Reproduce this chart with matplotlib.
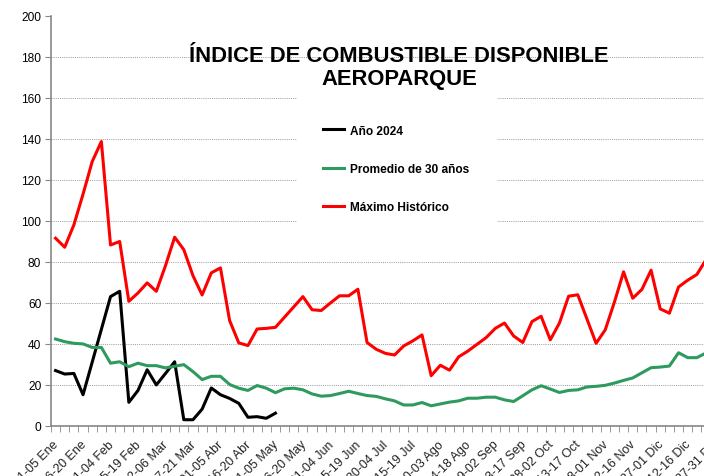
import matplotlib
matplotlib.use("Agg")
import matplotlib.pyplot as plt
import matplotlib.transforms as mtransforms
import numpy as np

plt.rcParams['font.family'] = ['Liberation Sans', 'DejaVu Sans']

# pentad labels, one every third pentad
tick_labels = ["01-05 Ene", "16-20 Ene", "31-04 Feb", "15-19 Feb", "02-06 Mar",
               "17-21 Mar", "01-05 Abr", "16-20 Abr", "01-05 May", "16-20 May",
               "31-04 Jun", "15-19 Jun", "30-04 Jul", "15-19 Jul", "30-03 Ago",
               "14-18 Ago", "29-02 Sep", "13-17 Sep", "28-02 Oct", "13-17 Oct",
               "28-01 Nov", "12-16 Nov", "27-01 Dic", "12-16 Dic", "27-31 Dic"]
n_pentads = 73

anio_2024 = [26.9, 25.2, 25.5, 15.1, 31, 47, 63, 65.6, 11.4, 17.2,
             27.3, 19.9, 25.5, 31.2, 2.9, 2.9, 8.1, 18.4, 15.1, 13.3,
             10.9, 4.1, 4.4, 3.6, 6.1]

promedio_30 = [42.3, 41, 40.2, 39.9, 38.2, 38.2, 30.5, 31.2, 28.8, 30.5,
               29.3, 29.3, 28.2, 29, 29.8, 26.4, 22.5, 24.1, 24.1, 20.1,
               18.3, 17.2, 19.6, 18.3, 16.1, 18, 18.3, 17.5, 15.5, 14.4,
               14.7, 15.7, 16.8, 15.7, 14.7, 14.3, 13.1, 12.1, 10.1, 10.1,
               11.3, 9.7, 10.6, 11.5, 12.1, 13.4, 13.4, 13.9, 13.9, 12.6,
               11.8, 14.6, 17.5, 19.5, 17.9, 16.2, 17.2, 17.5, 18.9, 19.2,
               19.7, 20.8, 22.1, 23.3, 25.8, 28.3, 28.6, 29.1, 35.6, 33.2,
               33.2, 35.5]

maximo_hist = [91.5, 87.1, 98, 113, 128.9, 138.7, 88.2, 89.9, 60.7, 64.8,
               69.7, 65.6, 78.1, 92, 85.9, 73.2, 63.8, 74.6, 77, 51.3,
               40.4, 39.1, 47.2, 47.5, 48, 53, 58, 63, 56.6, 56.2,
               59.9, 63.4, 63.4, 66.6, 40.6, 37.3, 35.3, 34.5, 38.9, 41.4,
               44.3, 24.4, 29.5, 27.1, 33.6, 36.4, 39.7, 43, 47.5, 50.1,
               43.8, 40.6, 50.8, 53.4, 41.9, 50.1, 63.2, 63.9, 52.1, 40.2,
               46.8, 60.3, 75.1, 62.2, 66.5, 75.9, 57, 54.9, 67.7, 71,
               73.8, 81]

fig = plt.figure(figsize=(7.04, 4.77), dpi=100)
ax = fig.add_axes([0.0724, 0.1055, 0.950, 0.859])

ax.plot(np.arange(len(anio_2024)), anio_2024, color='black', lw=2.2, label='Año 2024')
ax.plot(np.arange(len(promedio_30)), promedio_30, color='#2E9A5E', lw=2.2, label='Promedio de 30 años')
ax.plot(np.arange(len(maximo_hist)), maximo_hist, color='#FF0000', lw=2.2, label='Máximo Histórico')

ax.set_xlim(-0.5, n_pentads - 0.5)
ax.set_ylim(0, 200)
ax.set_yticks(np.arange(0, 201, 20))
ax.tick_params(axis='y', labelsize=8.6, length=4, color='#888888', direction='out', pad=3)

# category ticks between points, labels every third pentad
ax.set_xticks(np.arange(-0.5, n_pentads, 1.0), minor=True)
ax.set_xticks(np.arange(0, n_pentads, 3))
ax.set_xticklabels(tick_labels, rotation=45, ha='right', va='top',
                   rotation_mode='anchor', fontsize=9, color='#222222')
ax.tick_params(axis='x', which='major', length=0, pad=9)
ax.tick_params(axis='x', which='minor', length=4, color='#888888')
shift = mtransforms.ScaledTranslation(-3 / 100, 0, fig.dpi_scale_trans)
for lbl in ax.get_xticklabels():
    lbl.set_transform(lbl.get_transform() + shift)

for y in range(20, 200, 20):
    ax.axhline(y, color='#999999', lw=0.7, ls=(0, (1, 1.2)), zorder=0)

for side in ['top', 'right']:
    ax.spines[side].set_visible(False)
for side in ['left', 'bottom']:
    ax.spines[side].set_color('#888888')
    ax.spines[side].set_linewidth(1.2)

fig.text(0.567, 0.857, 'ÍNDICE DE COMBUSTIBLE DISPONIBLE\nAEROPARQUE',
         ha='center', va='center', fontsize=15.8, fontweight='bold', linespacing=1.12)

leg = ax.legend(loc='center', bbox_to_anchor=(0.563, 0.644),
                bbox_transform=fig.transFigure, frameon=True, fancybox=False,
                edgecolor='white', facecolor='white', framealpha=1,
                prop={'weight': 'bold', 'size': 8.6}, handlelength=1.8,
                labelspacing=2.2, borderpad=2.2, handletextpad=0.5)

plt.savefig('out.png', dpi=100)
